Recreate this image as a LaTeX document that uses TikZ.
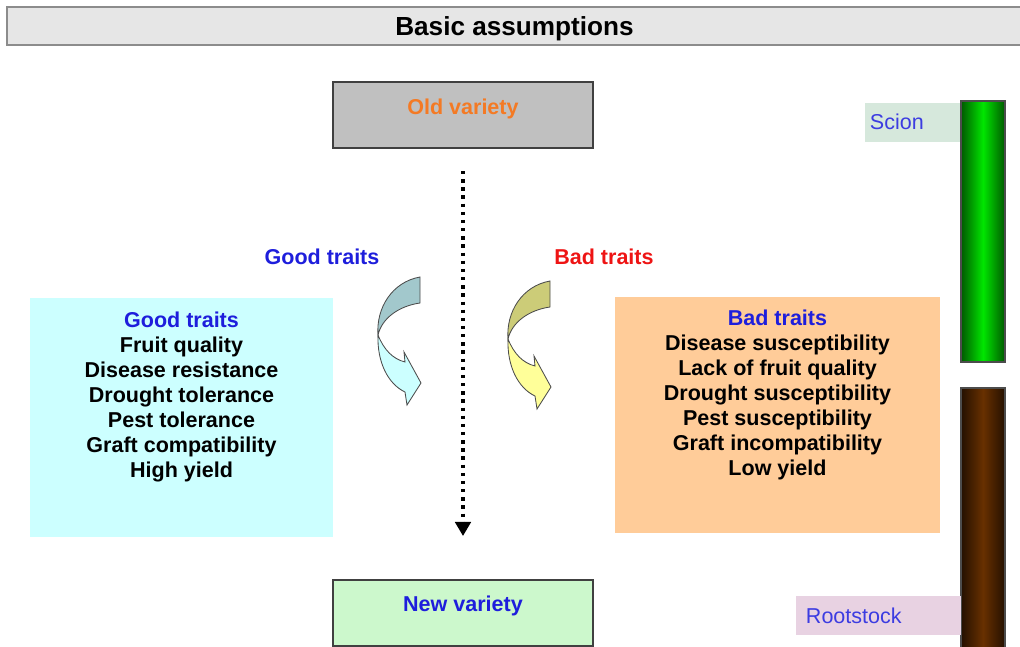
\documentclass[tikz,border=0pt]{standalone}
\usepackage{fontspec}
\setmainfont{Liberation Sans}
\usetikzlibrary{arrows.meta}

\definecolor{titlegray}{RGB}{230,230,230}
\definecolor{oldgray}{RGB}{192,192,192}
\definecolor{newgreen}{RGB}{204,248,204}
\definecolor{goodcyan}{RGB}{204,255,255}
\definecolor{badpeach}{RGB}{255,204,153}
\definecolor{oldorange}{RGB}{244,122,36}
\definecolor{textblue}{RGB}{30,30,220}
\definecolor{labelblue}{RGB}{60,60,225}
\definecolor{textred}{RGB}{238,20,20}
\definecolor{scionbg}{RGB}{214,232,220}
\definecolor{rootbg}{RGB}{232,210,226}
\definecolor{backcyan}{RGB}{162,200,204}
\definecolor{backolive}{RGB}{204,204,120}
\definecolor{frontyellow}{RGB}{255,255,153}
\definecolor{darkbark}{RGB}{36,16,0}
\definecolor{lightbark}{RGB}{104,48,0}

\tikzset{
  varbox/.style={draw=black!75, line width=1.4pt, minimum width=6.5cm, minimum height=1.65cm},
  traitbox/.style={inner sep=0pt},
  tagbox/.style={font=\fontsize{15.3}{17.7}\selectfont, text=labelblue, minimum height=0.975cm, align=left},
  ribbon/.style={draw=black!70, line width=0.6pt},
  dotarrow/.style={line width=2.4pt, dash pattern=on 2.4pt off 3.4pt, -{Triangle[length=10pt,width=11pt]}}
}

% twisted arrow: shift, back colour, front colour
\newcommand{\twistarrow}[3]{%
  \begin{scope}[shift={#1}]
    \draw[ribbon, fill=#2] (420,277) -- (420,303) .. controls (399,306) and (382,318) .. (378,335)
      .. controls (376,308) and (392,282) .. (420,277) -- cycle;
    \draw[ribbon, fill=#3] (378,335) .. controls (384,350) and (393,359) .. (405,362) -- (404,352)
      -- (421,383) -- (407,405) -- (405,392) .. controls (388,384) and (377,362) .. (378,335) -- cycle;
  \end{scope}}

\begin{document}
\begin{tikzpicture}[x=0.025cm, y=-0.025cm, font=\fontsize{15.3}{17.7}\selectfont\bfseries]
\useasboundingbox (0,0) rectangle (1020,646);

% Title bar
\node[draw=black!45, fill=titlegray, line width=1.2pt, minimum width=25.375cm, minimum height=0.95cm,
  font=\fontsize{18.6}{20}\selectfont\bfseries] (title) at (514.5,26) {};
\node[font=\fontsize{18.6}{20}\selectfont\bfseries] (titletxt) at (514.5,29) {Basic assumptions};

% Old and new variety
\node[varbox, fill=oldgray] (old) at (463,115) {};
\node[text=oldorange] (oldtxt) at (463,109) {Old variety};
\node[varbox, fill=newgreen] (new) at (463,613) {};
\node[text=textblue] (newtxt) at (463,606) {New variety};

% Breeding path
\draw[dotarrow, shorten <=0.55cm, shorten >=1.075cm] (old.south) -- (new.north);

% Trait headings
\node[text=textblue] (goodhead) at (322,257) {Good traits};
\node[text=textred] (badhead) at (604,257) {Bad traits};

% Good traits (left)
\node[traitbox, fill=goodcyan, minimum width=7.575cm, minimum height=5.975cm] (good) at (181.5,417.5) {};
\node[align=center] (goodlist) at (181.5,397) {\textcolor{textblue}{Good traits}\\Fruit quality\\Disease resistance\\
  Drought tolerance\\Pest tolerance\\Graft compatibility\\High yield};

% Bad traits (right)
\node[traitbox, fill=badpeach, minimum width=8.125cm, minimum height=5.9cm] (bad) at (777.5,415) {};
\node[align=center] (badlist) at (777.5,395) {\textcolor{textblue}{Bad traits}\\Disease susceptibility\\Lack of fruit quality\\
  Drought susceptibility\\Pest susceptibility\\Graft incompatibility\\Low yield};

% Twisted arrows
\twistarrow{(0,0)}{backcyan}{goodcyan}
\twistarrow{(130,4)}{backolive}{frontyellow}

% Scion and rootstock
\node[tagbox, fill=scionbg, minimum width=2.4cm, text width=2.15cm, inner xsep=0.125cm] (sciontag) at (913,122) {Scion};
\shade[left color=green!35!black, right color=green!35!black, middle color=green!90!black]
  (961,101) rectangle (1005,362);
\draw[black!70, line width=0.8pt] (961,101) rectangle (1005,362);
\shade[left color=darkbark, right color=darkbark, middle color=lightbark]
  (961,388) rectangle (1005,650);
\draw[black!70, line width=0.8pt] (961,388) rectangle (1005,650);
\node[tagbox, fill=rootbg, minimum width=4.125cm, text width=3.625cm, inner xsep=0.25cm] (roottag) at (878.5,615.5) {Rootstock};

\end{tikzpicture}
\end{document}
